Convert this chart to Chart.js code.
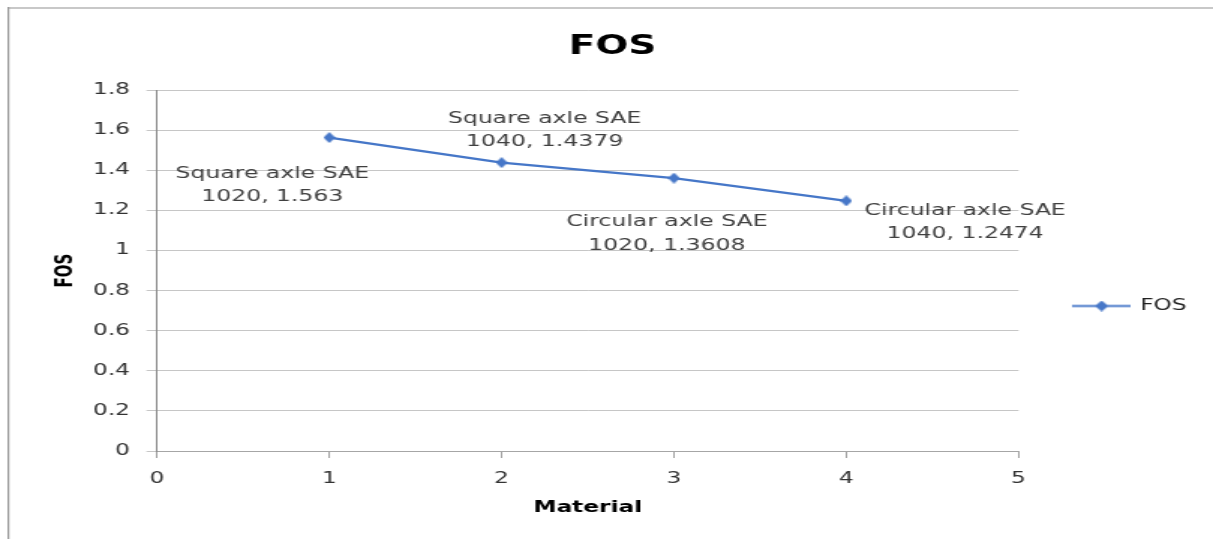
<!DOCTYPE html>
<html>
<head>
<meta charset="utf-8">
<title>FOS</title>
<script src="https://cdn.jsdelivr.net/npm/chart.js@4.4.0/dist/chart.umd.min.js"></script>
<style>
  html, body { margin: 0; padding: 0; background: #fff; overflow: hidden; }
  /* the original picture is stretched sideways, so the canvas is too */
  #myChart { position: absolute; left: 0; top: 0; width: 1213px !important; height: 539px !important; }
</style>
</head>
<body>
<canvas id="myChart" width="809" height="539" style="width:1213px;height:539px"></canvas>
<script>
// values
const materials = ['Square axle SAE 1020', 'Square axle SAE 1040', 'Circular axle SAE 1020', 'Circular axle SAE 1040'];
const materialNo = [1, 2, 3, 4];
const fosValues = [1.563, 1.4379, 1.3608, 1.2474];
const xTicks = [0, 1, 2, 3, 4, 5];
const xTickLabels = ['0', '1', '2', '3', '4', '5'];
const yTicks = [0, 0.2, 0.4, 0.6, 0.8, 1, 1.2, 1.4, 1.6, 1.8];
const yTickLabels = ['0', '0.2', '0.4', '0.6', '0.8', '1', '1.2', '1.4', '1.6', '1.8'];

const blue = '#4677c8';
Chart.defaults.font.family = '"DejaVu Sans", sans-serif';

// diamond marker (narrower than tall because the canvas is stretched)
function diamond(w, h, lineW) {
  const c = document.createElement('canvas');
  c.width = lineW || w; c.height = h;
  const g = c.getContext('2d');
  g.fillStyle = blue;
  const cx = c.width / 2;
  if (lineW) g.fillRect(0, h / 2 - 1, lineW, 2);
  g.beginPath();
  g.moveTo(cx, 0); g.lineTo(cx + w / 2, h / 2); g.lineTo(cx, h); g.lineTo(cx - w / 2, h / 2);
  g.closePath(); g.fill();
  return c;
}
const marker = diamond(8, 11);
const legendMark = diamond(9, 11, 39);

// chart border, only top and left are visible in the picture
const framePlugin = {
  id: 'frame',
  beforeDraw(chart) {
    const ctx = chart.ctx;
    ctx.save();
    ctx.fillStyle = '#fff';
    ctx.fillRect(0, 0, chart.width, chart.height);
    ctx.strokeStyle = '#c8c8c8';
    ctx.lineWidth = 2;
    ctx.beginPath(); ctx.moveTo(5, 8); ctx.lineTo(chart.width, 8); ctx.stroke();
    ctx.strokeStyle = '#9a9a9a';
    ctx.lineWidth = 1.2;
    ctx.beginPath(); ctx.moveTo(5.6, 7); ctx.lineTo(5.6, chart.height); ctx.stroke();
    ctx.restore();
  }
};

// Excel style data labels: "name, value" on two lines
const labelPlugin = {
  id: 'pointLabels',
  afterDatasetsDraw(chart, args, opts) {
    const ctx = chart.ctx;
    const meta = chart.getDatasetMeta(0);
    ctx.save();
    ctx.font = '15.7px "DejaVu Sans"';
    ctx.fillStyle = '#404040';
    ctx.textAlign = 'center';
    ctx.textBaseline = 'middle';
    meta.data.forEach((pt, i) => {
      const name = materials[i];
      const cut = name.lastIndexOf(' ');
      const lines = [name.slice(0, cut), name.slice(cut + 1) + ', ' + fosValues[i]];
      const [dx, dy] = opts.offsets[i];
      lines.forEach((t, j) => ctx.fillText(t, pt.x + dx, pt.y + dy + j * 23.5));
    });
    ctx.restore();
  }
};

var ctx = document.getElementById('myChart').getContext('2d');
var chart = new Chart(ctx, {
  type: 'scatter',
  data: {
    datasets: [{
      label: 'FOS',
      data: materialNo.map((x, i) => ({ x: x, y: fosValues[i] })),
      showLine: true,
      borderColor: blue,
      backgroundColor: blue,
      borderWidth: 2.25,
      pointStyle: marker,
      pointRadius: 5,
      pointHoverRadius: 5
    }]
  },
  options: {
    responsive: false,
    animation: false,
    devicePixelRatio: 1,
    events: [],
    layout: { padding: { left: 16.6, top: 10, right: 8.7, bottom: 10 } },
    plugins: {
      title: {
        display: true, text: 'FOS', color: '#000',
        font: { size: 26, weight: 'bold' },
        padding: { top: 21.4, bottom: 27.4 }
      },
      legend: {
        position: 'right',
        fullSize: false,
        maxWidth: 121,
        labels: {
          usePointStyle: true, pointStyle: legendMark, pointStyleWidth: 36,
          padding: 37.4, color: '#222', font: { size: 15.5 }
        },
        // empty title only pushes the entry down to where Excel put it
        title: { display: true, text: ' ', font: { size: 10 }, padding: { top: 59, bottom: 0 } }
      },
      tooltip: { enabled: false },
      pointLabels: { offsets: [[-38, 36], [28.7, -44], [-4.7, 44], [79.3, 10]] }
    },
    scales: {
      x: {
        type: 'linear', min: 0, max: 5,
        afterBuildTicks: s => { s.ticks = xTicks.map(v => ({ value: v })); },
        afterFit: s => { s.height = 78; },
        ticks: { callback: (v, i) => xTickLabels[i], padding: 11.7, color: '#333', font: { size: 15.5 }, maxRotation: 0 },
        grid: { drawOnChartArea: false, tickLength: 7, color: '#a0a0a0' },
        border: { color: '#a6a6a6' },
        title: { display: true, text: 'Material', color: '#000', font: { size: 15.5, weight: 'bold' }, padding: { top: 0, bottom: 11.7 } }
      },
      y: {
        min: 0, max: 1.8,
        afterBuildTicks: s => { s.ticks = yTicks.map(v => ({ value: v })); },
        afterFit: s => { s.width = 88.1; },
        ticks: { callback: (v, i) => yTickLabels[i], padding: 11, color: '#333', font: { size: 15.5 } },
        grid: { color: '#c6c6c6', tickLength: 7 },
        border: { color: '#8a8a8a' },
        title: { display: true, text: 'FOS', color: '#000', font: { size: 15, weight: 'bold' }, padding: { top: 18.7, bottom: 0 } }
      }
    }
  },
  plugins: [framePlugin, labelPlugin]
});
</script>
</body>
</html>
